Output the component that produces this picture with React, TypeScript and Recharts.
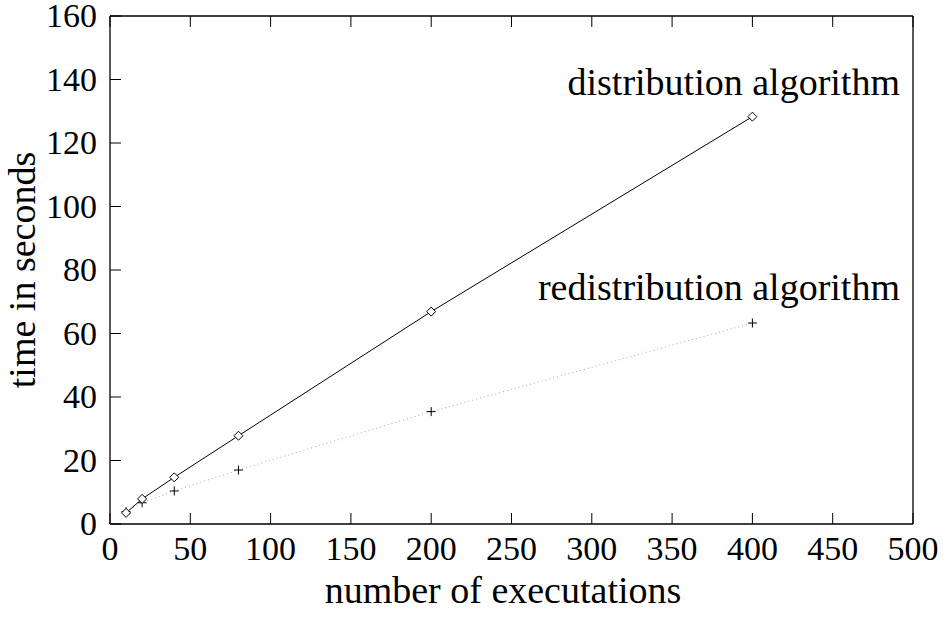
import React from 'react';
import { ComposedChart, Line, XAxis, YAxis, ReferenceDot, Label } from 'recharts';

const executions = [10, 20, 40, 80, 200, 400];
const distributionTimes = [3.5, 7.9, 14.7, 27.8, 66.9, 128.3];
const redistributionTimes = [3.9, 6.7, 10.4, 17.0, 35.4, 63.3];
const xTicks = [0, 50, 100, 150, 200, 250, 300, 350, 400, 450, 500];
const yTicks = [0, 20, 40, 60, 80, 100, 120, 140, 160];
const seriesNames = ['distribution algorithm', 'redistribution algorithm'];
const xTitle = 'number of executations';
const yTitle = 'time in seconds';

const data = executions.map((x, i) => ({
  x,
  dist: distributionTimes[i],
  redist: redistributionTimes[i],
}));

const FONT = '"Liberation Serif", "Times New Roman", serif';
const FS = 34;
const TFS = 38;
const TICK = 11;

const BottomTick = (p: any) => (
  <g>
    <line x1={p.x} y1={p.y} x2={p.x} y2={p.y - TICK} stroke="#000" strokeWidth={1} />
    <text x={p.x} y={p.y + 36} textAnchor="middle" fontFamily={FONT} fontSize={FS} fill="#000">
      {p.payload.value}
    </text>
  </g>
);
const TopTick = (p: any) => (
  <line x1={p.x} y1={p.y} x2={p.x} y2={p.y + TICK} stroke="#000" strokeWidth={1} />
);
const LeftTick = (p: any) => (
  <g>
    <line x1={p.x} y1={p.y} x2={p.x + TICK} y2={p.y} stroke="#000" strokeWidth={1} />
    <text x={p.x - 13} y={p.y + 11} textAnchor="end" fontFamily={FONT} fontSize={FS} fill="#000">
      {p.payload.value}
    </text>
  </g>
);
const RightTick = (p: any) => (
  <line x1={p.x} y1={p.y} x2={p.x - TICK} y2={p.y} stroke="#000" strokeWidth={1} />
);

const Diamond = (p: any) => {
  const { cx, cy } = p;
  if (cx == null || cy == null) return <g key={p.key} />;
  const r = 4.5;
  return (
    <path
      key={p.key}
      d={`M${cx},${cy - r}L${cx + r},${cy}L${cx},${cy + r}L${cx - r},${cy}Z`}
      fill="#fff"
      stroke="#000"
      strokeWidth={1}
    />
  );
};
const Plus = (p: any) => {
  const { cx, cy } = p;
  if (cx == null || cy == null) return <g key={p.key} />;
  const r = 4.5;
  return (
    <path
      key={p.key}
      d={`M${cx - r},${cy}L${cx + r},${cy}M${cx},${cy - r}L${cx},${cy + r}`}
      stroke="#000"
      strokeWidth={1}
      fill="none"
    />
  );
};

const annotation = (text: string) => (props: any) => {
  const vb = props.viewBox || {};
  return (
    <text x={vb.x} y={vb.y} textAnchor="end" fontFamily={FONT} fontSize={TFS} fill="#000">
      {text}
    </text>
  );
};

export default function App() {
  return (
    <div style={{ position: 'absolute', left: 0, top: 0, background: '#fff' }}>
      <ComposedChart
        width={943}
        height={620}
        data={data}
        margin={{ top: 15, right: 29, bottom: 56, left: 50 }}
      >
        <XAxis
          xAxisId="b"
          dataKey="x"
          type="number"
          domain={[0, 500]}
          ticks={xTicks}
          interval={0}
          orientation="bottom"
          height={40}
          tickSize={0}
          tickMargin={0}
          tickLine={false}
          tick={<BottomTick />}
          axisLine={{ stroke: '#000', strokeWidth: 1.3 }}
        >
          <Label
            content={() => (
              <text x={503} y={603} textAnchor="middle" fontFamily={FONT} fontSize={TFS} fill="#000">
                {xTitle}
              </text>
            )}
          />
        </XAxis>
        <XAxis
          xAxisId="t"
          dataKey="x"
          type="number"
          domain={[0, 500]}
          ticks={xTicks}
          interval={0}
          orientation="top"
          height={1}
          tickSize={0}
          tickMargin={0}
          tickLine={false}
          tick={<TopTick />}
          axisLine={{ stroke: '#000', strokeWidth: 1.3 }}
        />
        <YAxis
          yAxisId="l"
          type="number"
          domain={[0, 160]}
          ticks={yTicks}
          interval={0}
          orientation="left"
          width={60}
          tickSize={0}
          tickMargin={0}
          tickLine={false}
          tick={<LeftTick />}
          axisLine={{ stroke: '#000', strokeWidth: 1.3 }}
        >
          <Label
            content={() => (
              <text
                x={35}
                y={270}
                transform="rotate(-90 35 270)"
                textAnchor="middle"
                fontFamily={FONT}
                fontSize={TFS}
                fill="#000"
              >
                {yTitle}
              </text>
            )}
          />
        </YAxis>
        <YAxis
          yAxisId="r"
          type="number"
          domain={[0, 160]}
          ticks={yTicks}
          interval={0}
          orientation="right"
          width={1}
          tickSize={0}
          tickMargin={0}
          tickLine={false}
          tick={<RightTick />}
          axisLine={{ stroke: '#000', strokeWidth: 1.3 }}
        />
        <Line
          xAxisId="b"
          yAxisId="l"
          dataKey="redist"
          stroke="#aaa"
          strokeWidth={1}
          strokeDasharray="1 3"
          dot={<Plus />}
          activeDot={false}
          isAnimationActive={false}
        />
        <Line
          xAxisId="b"
          yAxisId="l"
          dataKey="dist"
          stroke="#000"
          strokeWidth={1}
          dot={<Diamond />}
          activeDot={false}
          isAnimationActive={false}
        />
        <ReferenceDot
          xAxisId="b"
          yAxisId="l"
          x={491.9}
          y={135.2}
          r={0}
          stroke="none"
          fill="none"
          label={annotation(seriesNames[0])}
        />
        <ReferenceDot
          xAxisId="b"
          yAxisId="l"
          x={491.9}
          y={70.6}
          r={0}
          stroke="none"
          fill="none"
          label={annotation(seriesNames[1])}
        />
      </ComposedChart>
    </div>
  );
}
